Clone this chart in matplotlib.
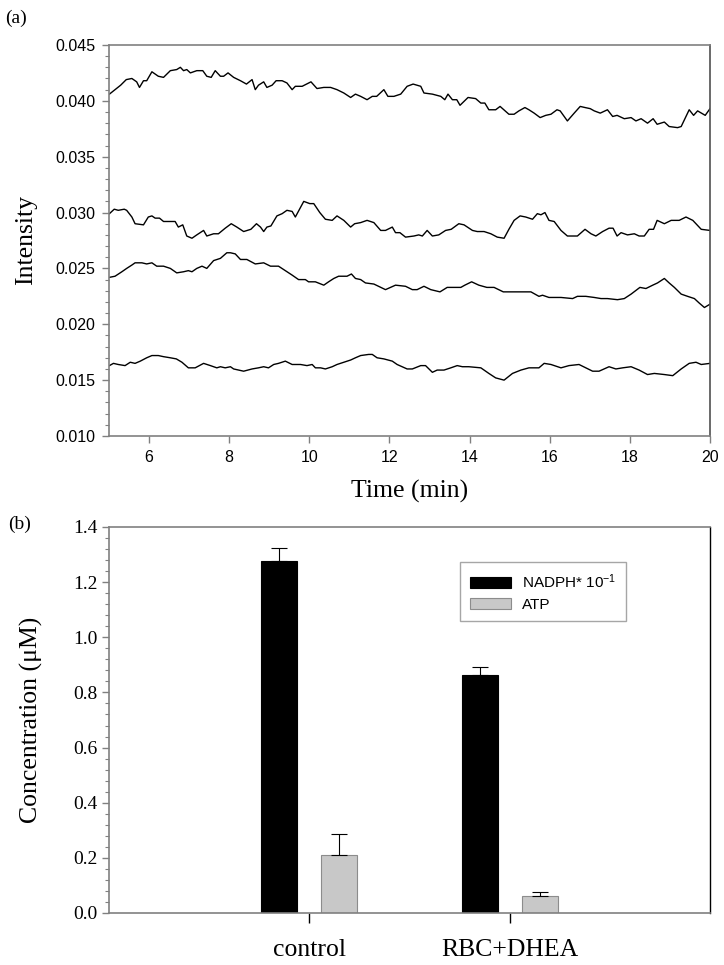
import matplotlib
matplotlib.use('Agg')
import matplotlib.pyplot as plt
from matplotlib.ticker import MultipleLocator, FormatStrFormatter
import numpy as np

plt.rcParams['mathtext.default'] = 'regular'

SERIF = 'Liberation Serif'
SANS = 'Liberation Sans'

# ---- panel (a): intensity traces ----
t1 = [5.01, 5.15, 5.29, 5.43, 5.57, 5.69, 5.76, 5.86, 5.94, 6.07, 6.23, 6.36, 6.53, 6.69, 6.78, 6.86, 6.94,
      7.03, 7.19, 7.34, 7.44, 7.55, 7.65, 7.78, 7.86, 7.97, 8.11, 8.28, 8.43, 8.57, 8.65, 8.73, 8.86, 8.94,
      9.07, 9.17, 9.32, 9.44, 9.57, 9.65, 9.82, 10.04, 10.19, 10.36, 10.53, 10.69, 10.86, 11.03, 11.15, 11.28,
      11.44, 11.57, 11.68, 11.86, 11.96, 12.11, 12.28, 12.44, 12.59, 12.78, 12.86, 13.07, 13.28, 13.38, 13.46,
      13.57, 13.68, 13.76, 13.96, 14.15, 14.28, 14.38, 14.48, 14.65, 14.76, 14.98, 15.11, 15.23, 15.38, 15.48,
      15.61, 15.76, 15.90, 16.03, 16.18, 16.26, 16.44, 16.61, 16.76, 16.88, 17.01, 17.11, 17.26, 17.44, 17.57,
      17.68, 17.86, 18.03, 18.15, 18.28, 18.44, 18.58, 18.68, 18.86, 18.98, 19.19, 19.28, 19.36, 19.48, 19.59,
      19.69, 19.88, 20.0]
y1 = [0.0406, 0.0410, 0.0414, 0.0419, 0.0420, 0.0417, 0.0412, 0.0418, 0.0418, 0.0426, 0.0422, 0.0421, 0.0427,
      0.0428, 0.0430, 0.0427, 0.0428, 0.0425, 0.0427, 0.0427, 0.0422, 0.0421, 0.0427, 0.0422, 0.0422, 0.0425,
      0.0421, 0.0418, 0.0415, 0.0419, 0.0410, 0.0414, 0.0417, 0.0412, 0.0414, 0.0418, 0.0418, 0.0416, 0.0410,
      0.0413, 0.0413, 0.0417, 0.0411, 0.0412, 0.0412, 0.0410, 0.0407, 0.0403, 0.0406, 0.0404,
      0.0401, 0.0404, 0.0404, 0.0410, 0.0404, 0.0404, 0.0406, 0.0413, 0.0415, 0.0413, 0.0407, 0.0406, 0.0404,
      0.0401, 0.0406, 0.0401, 0.0401, 0.0396, 0.0403, 0.0402, 0.0398, 0.0398, 0.0392, 0.0392, 0.0395, 0.0388,
      0.0388, 0.0391, 0.0394, 0.0392, 0.0389, 0.0385, 0.0387, 0.0388, 0.0392, 0.0391, 0.0382, 0.0389, 0.0395,
      0.0394, 0.0393, 0.0391, 0.0389, 0.0392, 0.0386, 0.0387, 0.0384, 0.0385, 0.0382, 0.0384, 0.0380, 0.0384,
      0.0379, 0.0381, 0.0377, 0.0376, 0.0377, 0.0383, 0.0392, 0.0387, 0.0391, 0.0387, 0.0393]

t2 = [5.01, 5.13, 5.23, 5.38, 5.44, 5.57, 5.65, 5.86, 5.98, 6.07, 6.15, 6.26, 6.36, 6.65, 6.73, 6.84, 6.94,
      7.07, 7.19, 7.36, 7.44, 7.61, 7.73, 7.90, 8.05, 8.19, 8.36, 8.54, 8.68, 8.78, 8.86, 8.94, 9.04, 9.19,
      9.32, 9.44, 9.57, 9.65, 9.86, 10.01, 10.11, 10.26, 10.40, 10.57, 10.69, 10.86, 11.03, 11.13, 11.28,
      11.44, 11.61, 11.78, 11.90, 12.07, 12.15, 12.26, 12.40, 12.61, 12.73, 12.82, 12.94, 13.07, 13.23, 13.40,
      13.54, 13.73, 13.86, 14.07, 14.19, 14.36, 14.53, 14.69, 14.86, 14.98, 15.11, 15.26, 15.40, 15.57, 15.69,
      15.78, 15.88, 15.98, 16.11, 16.28, 16.44, 16.69, 16.88, 17.03, 17.15, 17.32, 17.48, 17.58, 17.68, 17.78,
      17.94, 18.11, 18.23, 18.36, 18.48, 18.59, 18.68, 18.86, 19.03, 19.23, 19.40, 19.57, 19.78, 20.0]
y2 = [0.0299, 0.0303, 0.0302, 0.0303, 0.0302, 0.0296, 0.0290, 0.0289, 0.0296, 0.0297, 0.0295, 0.0295, 0.0292,
      0.0292, 0.0287, 0.0289, 0.0279, 0.0277, 0.0280, 0.0284, 0.0279, 0.0281, 0.0281, 0.0286, 0.0290, 0.0287,
      0.0283, 0.0285, 0.0290, 0.0287, 0.0283, 0.0287, 0.0288, 0.0297, 0.0299, 0.0302, 0.0301, 0.0296, 0.0310,
      0.0308, 0.0308, 0.0300, 0.0294, 0.0293, 0.0297, 0.0293, 0.0287, 0.0290, 0.0291,
      0.0293, 0.0291, 0.0284, 0.0284, 0.0287, 0.0282, 0.0282, 0.0278, 0.0279, 0.0280, 0.0279, 0.0284, 0.0279,
      0.0280, 0.0284, 0.0285, 0.0290, 0.0289, 0.0284, 0.0283, 0.0283, 0.0281, 0.0278, 0.0277, 0.0285, 0.0293,
      0.0297, 0.0296, 0.0294, 0.0299, 0.0298, 0.0300, 0.0293, 0.0292, 0.0284, 0.0279, 0.0279, 0.0285, 0.0281,
      0.0279, 0.0283, 0.0286, 0.0286, 0.0279, 0.0282, 0.0280, 0.0281, 0.0279, 0.0279, 0.0285, 0.0285, 0.0293,
      0.0290, 0.0293, 0.0293, 0.0296, 0.0293, 0.0285, 0.0284]

t3 = [5.01, 5.15, 5.32, 5.44, 5.57, 5.65, 5.82, 5.94, 6.07, 6.19, 6.36, 6.53, 6.69, 6.86, 6.98, 7.07, 7.19,
      7.32, 7.44, 7.61, 7.78, 7.94, 8.03, 8.15, 8.28, 8.44, 8.65, 8.86, 9.03, 9.23, 9.40, 9.57, 9.73, 9.90,
      9.98, 10.15, 10.36, 10.48, 10.61, 10.73, 10.94, 11.05, 11.15, 11.28,
      11.40, 11.61, 11.90, 12.15, 12.40, 12.57, 12.69, 12.86, 13.03, 13.26, 13.44, 13.61, 13.78, 13.88, 14.05,
      14.23, 14.43, 14.61, 14.84, 15.11, 15.28, 15.53, 15.73, 15.82, 15.98, 16.28, 16.57, 16.69, 16.90, 17.11,
      17.28, 17.44, 17.69, 17.86, 18.03, 18.25, 18.40, 18.57, 18.69, 18.86, 18.98, 19.11, 19.28, 19.44, 19.61,
      19.73, 19.86, 20.0]
y3 = [0.0242, 0.0243, 0.0247, 0.0250, 0.0253, 0.0255, 0.0255, 0.0254, 0.0255, 0.0252, 0.0252, 0.0250, 0.0246,
      0.0247, 0.0248, 0.0247, 0.0250, 0.0252, 0.0250, 0.0257, 0.0259, 0.0264, 0.0264, 0.0263, 0.0258, 0.0258,
      0.0254, 0.0255, 0.0252, 0.0252, 0.0248, 0.0244, 0.0240, 0.0240, 0.0238, 0.0238, 0.0235, 0.0238, 0.0241,
      0.0243, 0.0243, 0.0245, 0.0241, 0.0240,
      0.0237, 0.0236, 0.0231, 0.0235, 0.0234, 0.0231, 0.0231, 0.0234, 0.0231, 0.0229, 0.0233, 0.0233, 0.0233,
      0.0235, 0.0238, 0.0235, 0.0233, 0.0233, 0.0229, 0.0229, 0.0229, 0.0229, 0.0225, 0.0226, 0.0224, 0.0224,
      0.0223, 0.0225, 0.0225, 0.0224, 0.0223, 0.0223, 0.0222, 0.0223, 0.0227, 0.0233, 0.0232, 0.0235, 0.0237,
      0.0241, 0.0237, 0.0233, 0.0227, 0.0225, 0.0223, 0.0219, 0.0215, 0.0218]

t4 = [5.01, 5.11, 5.23, 5.40, 5.53, 5.65, 5.78, 5.94, 6.07, 6.23, 6.36, 6.53, 6.68, 6.82, 6.98, 7.15, 7.36,
      7.53, 7.69, 7.78, 7.90, 8.03, 8.11, 8.36, 8.57, 8.73, 8.86, 8.98, 9.11, 9.23, 9.40, 9.57, 9.78, 9.94,
      10.07, 10.15, 10.28, 10.40, 10.57, 10.69, 10.86, 11.03, 11.15, 11.28,
      11.48, 11.57, 11.69, 11.86, 12.07, 12.19, 12.44, 12.57, 12.78, 12.90, 13.07, 13.19, 13.36, 13.53, 13.69,
      13.82, 13.98, 14.28, 14.48, 14.65, 14.86, 15.07, 15.28, 15.48, 15.73, 15.86, 16.03, 16.28, 16.48, 16.73,
      16.90, 17.07, 17.23, 17.48, 17.65, 17.82, 18.03, 18.23, 18.44, 18.61, 18.86, 19.07, 19.28, 19.48, 19.65,
      19.78, 20.0]
y4 = [0.0163, 0.0165, 0.0164, 0.0163, 0.0166, 0.0165, 0.0167, 0.0170, 0.0172, 0.0172, 0.0171, 0.0170, 0.0169,
      0.0166, 0.0161, 0.0161, 0.0165, 0.0163, 0.0161, 0.0162, 0.0161, 0.0162, 0.0160, 0.0158, 0.0160, 0.0161,
      0.0162, 0.0161, 0.0164, 0.0165, 0.0167, 0.0164, 0.0164, 0.0163, 0.0164, 0.0161, 0.0161, 0.0160, 0.0162,
      0.0164, 0.0166, 0.0168, 0.0170, 0.0172,
      0.0173, 0.0173, 0.0170, 0.0169, 0.0167, 0.0164, 0.0160, 0.0160, 0.0163, 0.0163, 0.0157, 0.0159, 0.0159,
      0.0161, 0.0163, 0.0162, 0.0162, 0.0161, 0.0156, 0.0152, 0.0150, 0.0156, 0.0159, 0.0161, 0.0161, 0.0165,
      0.0164, 0.0161, 0.0163, 0.0164, 0.0161, 0.0158, 0.0158, 0.0162, 0.0160, 0.0161, 0.0162, 0.0159, 0.0155,
      0.0156, 0.0155, 0.0154, 0.0160, 0.0165, 0.0166, 0.0164, 0.0165]

# ---- panel (b): concentrations ----
groups = ['control', 'RBC+DHEA']
nadph = [1.275, 0.862]
nadph_err = [0.050, 0.030]
atp = [0.210, 0.060]
atp_err = [0.075, 0.017]

fig = plt.figure(figsize=(7.24, 9.65), dpi=100)

spine_gray = '#808080'

# top panel
ax1 = fig.add_axes([0.1506, 0.5482, 0.8301, 0.4052])
for t, y in [(t1, y1), (t2, y2), (t3, y3), (t4, y4)]:
    ax1.plot(t, y, color='black', lw=1.0)
ax1.set_xlim(5, 20)
ax1.set_ylim(0.010, 0.045)
ax1.set_xticks(np.arange(6, 21, 2))
ax1.yaxis.set_major_locator(MultipleLocator(0.005))
ax1.yaxis.set_minor_locator(MultipleLocator(0.001))
ax1.yaxis.set_major_formatter(FormatStrFormatter('%.3f'))
ax1.tick_params(axis='both', which='major', direction='out', length=5, width=1, color=spine_gray,
                labelsize=11.5, pad=5)
ax1.tick_params(axis='y', which='minor', direction='out', length=3, width=0.8, color=spine_gray)
for lab in ax1.get_xticklabels() + ax1.get_yticklabels():
    lab.set_fontfamily(SANS)
ax1.set_xlabel('Time (min)', fontfamily=SERIF, fontsize=18.5, labelpad=11)
ax1.set_ylabel('Intensity', fontfamily=SERIF, fontsize=18.5, labelpad=13)
for s in ['left', 'top', 'bottom']:
    ax1.spines[s].set_color(spine_gray)
    ax1.spines[s].set_linewidth(1.2)
ax1.spines['right'].set_color('#505050')
ax1.spines['right'].set_linewidth(1.2)

# bottom panel
ax2 = fig.add_axes([0.1506, 0.0539, 0.8301, 0.4000])
x = np.arange(1, len(groups) + 1)
w = 0.18
ax2.bar(x - 0.15, nadph, w, color='black', edgecolor='black', lw=0.8,
        yerr=[[0, 0], nadph_err], error_kw=dict(ecolor='black', elinewidth=0.8, capsize=6, capthick=0.8),
        label='NADPH* 10$^{-1}$')
ax2.bar(x + 0.15, atp, w, color='#c8c8c8', edgecolor='#8c8c8c', lw=0.8,
        yerr=[[0, 0], atp_err], error_kw=dict(ecolor='black', elinewidth=0.8, capsize=6, capthick=0.8),
        label='ATP')
ax2.set_xlim(0, 3)
ax2.set_ylim(0, 1.4)
ax2.set_xticks(x)
ax2.set_xticklabels(groups, fontfamily=SERIF, fontsize=18.5)
ax2.yaxis.set_major_locator(MultipleLocator(0.2))
ax2.yaxis.set_minor_locator(MultipleLocator(0.04))
ax2.yaxis.set_major_formatter(FormatStrFormatter('%.1f'))
ax2.tick_params(axis='x', which='major', direction='out', length=7, width=1, color='black', pad=12)
ax2.tick_params(axis='y', which='major', direction='out', length=5, width=1, color=spine_gray,
                labelsize=14, pad=3)
ax2.tick_params(axis='y', which='minor', direction='out', length=3, width=0.8, color=spine_gray)
for lab in ax2.get_yticklabels():
    lab.set_fontfamily(SERIF)
ax2.set_ylabel('Concentration (\u03bcM)', fontfamily=SERIF, fontsize=18.5, labelpad=22)
for s in ['left', 'top', 'bottom']:
    ax2.spines[s].set_color(spine_gray)
    ax2.spines[s].set_linewidth(1.2)
ax2.spines['right'].set_color('black')
ax2.spines['right'].set_linewidth(1.0)

leg = ax2.legend(loc='upper left', bbox_to_anchor=(0.584, 0.909), prop={'family': SANS, 'size': 11},
                 frameon=True, fancybox=False, handlelength=2.7, handleheight=0.7, handletextpad=0.7,
                 labelspacing=0.45, borderpad=0.65, borderaxespad=0)
leg.get_frame().set_edgecolor('#909090')
leg.get_frame().set_linewidth(1.0)

fig.text(0.007, 0.981, '(a)', fontfamily=SERIF, fontsize=14, va='center', ha='left')
fig.text(0.011, 0.457, '(b)', fontfamily=SERIF, fontsize=14, va='center', ha='left')

fig.savefig('out.png', dpi=100)
